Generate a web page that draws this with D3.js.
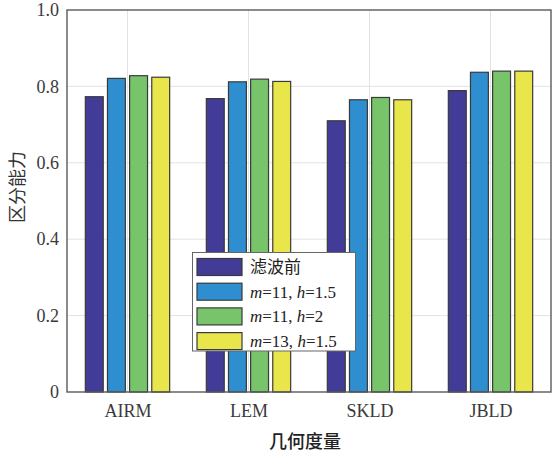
<!DOCTYPE html>
<html>
<head>
<meta charset="utf-8">
<script src="https://cdn.jsdelivr.net/npm/d3@7"></script>
<style>
  html, body { margin: 0; padding: 0; background: #fff; }
  svg { display: block; }
</style>
</head>
<body>
<svg id="chart" width="552" height="456"></svg>
<script>
// Discrimination ability of each geometric metric, per filtering setting
const categories = ["AIRM", "LEM", "SKLD", "JBLD"];
const seriesNames = ["滤波前", "m=11, h=1.5", "m=11, h=2", "m=13, h=1.5"];
const seriesBefore  = [0.773, 0.768, 0.710, 0.789];
const seriesM11H15  = [0.821, 0.812, 0.765, 0.837];
const seriesM11H2   = [0.828, 0.819, 0.771, 0.840];
const seriesM13H15  = [0.824, 0.813, 0.765, 0.840];
const yTicks = [0, 0.2, 0.4, 0.6, 0.8, 1.0];
const yTickLabels = ["0", "0.2", "0.4", "0.6", "0.8", "1.0"];

const allSeries = [seriesBefore, seriesM11H15, seriesM11H2, seriesM13H15];
const colors = ["#433b98", "#2f8ecf", "#78c46a", "#e8e64a"];

const svg = d3.select("#chart");
const margin = { left: 67, right: 1, top: 10, bottom: 64 };
const W = 552, H = 456;

const x = d3.scaleLinear().domain([0.5, categories.length + 0.5]).range([margin.left, W - margin.right]);
const y = d3.scaleLinear().domain([0, 1]).range([H - margin.bottom, margin.top]);

const serif = "'Liberation Serif', 'Times New Roman', serif";
const cjk = "'Noto Sans CJK SC', sans-serif";
const gridColor = "#e3e3e3";
const axisColor = "#5a5a5a";

// Grid lines
const g = svg.append("g");
g.selectAll("line.hgrid").data(yTicks.slice(1, -1)).enter().append("line")
  .attr("x1", x.range()[0]).attr("x2", x.range()[1])
  .attr("y1", d => y(d)).attr("y2", d => y(d))
  .attr("stroke", gridColor).attr("stroke-width", 1);
g.selectAll("line.vgrid").data(categories).enter().append("line")
  .attr("x1", (d, i) => x(i + 1)).attr("x2", (d, i) => x(i + 1))
  .attr("y1", y(0)).attr("y2", y(1))
  .attr("stroke", gridColor).attr("stroke-width", 1);

// Grouped bars
const step = 0.183;      // bar spacing in category units
const barW = 0.148;      // bar width in category units
allSeries.forEach((vals, s) => {
  svg.append("g").selectAll("rect").data(vals).enter().append("rect")
    .attr("x", (d, i) => x(i + 1 + (s - 1.5) * step - barW / 2))
    .attr("width", x(1 + barW) - x(1))
    .attr("y", d => y(d))
    .attr("height", d => y(0) - y(d))
    .attr("fill", colors[s])
    .attr("stroke", "#3a3a3a")
    .attr("stroke-width", 1.2);
});

// Axes box
const xAxis = d3.axisBottom(x).tickValues(categories.map((d, i) => i + 1))
  .tickFormat((d) => categories[d - 1]).tickSize(0).tickPadding(12);
const yAxis = d3.axisLeft(y).tickValues(yTicks)
  .tickFormat((d, i) => yTickLabels[i]).tickSize(0).tickPadding(8);

const gx = svg.append("g").attr("transform", `translate(0,${y(0)})`).call(xAxis);
const gy = svg.append("g").attr("transform", `translate(${x.range()[0]},0)`).call(yAxis);
[gx, gy].forEach(a => {
  a.select(".domain").remove();
  a.selectAll("text").attr("font-family", serif).attr("font-size", 18).attr("fill", "#3a3a3a");
});

svg.append("rect")
  .attr("x", x.range()[0]).attr("y", y(1))
  .attr("width", x.range()[1] - x.range()[0]).attr("height", y(0) - y(1))
  .attr("fill", "none").attr("stroke", axisColor).attr("stroke-width", 1.4);

// Axis titles
svg.append("text")
  .attr("x", 305).attr("y", 448)
  .attr("text-anchor", "middle")
  .attr("font-family", cjk)
  .attr("font-size", 18).attr("font-weight", 500).attr("fill", "#222")
  .text("几何度量");
svg.append("text")
  .attr("transform", "translate(24,187) rotate(-90)")
  .attr("text-anchor", "middle")
  .attr("font-family", cjk)
  .attr("font-size", 18).attr("font-weight", 400).attr("fill", "#333")
  .text("区分能力");

// Legend
const legend = svg.append("g").attr("transform", "translate(192.5,252.5)");
legend.append("rect").attr("width", 163).attr("height", 98.5)
  .attr("fill", "#fff").attr("stroke", "#666").attr("stroke-width", 1);
const rowH = 24.7;
seriesNames.forEach((name, i) => {
  const row = legend.append("g").attr("transform", `translate(0,${14.5 + i * rowH})`);
  row.append("rect").attr("x", 4.5).attr("y", -8.5).attr("width", 45).attr("height", 17)
    .attr("fill", colors[i]).attr("stroke", "#3a3a3a").attr("stroke-width", 1.2);
  const t = row.append("text").attr("x", 57.5).attr("y", 6)
    .attr("font-family", serif).attr("font-size", 17).attr("fill", "#222");
  if (i === 0) {
    t.attr("font-family", cjk).attr("font-weight", 400).text(name);
  } else {
    // "m=.., h=.." with italic symbols
    const m = name.match(/^(m)=(\d+), (h)=([\d.]+)$/);
    t.append("tspan").attr("font-style", "italic").text(m[1]);
    t.append("tspan").text("=" + m[2] + ", ");
    t.append("tspan").attr("font-style", "italic").text(m[3]);
    t.append("tspan").text("=" + m[4]);
  }
});
</script>
</body>
</html>
